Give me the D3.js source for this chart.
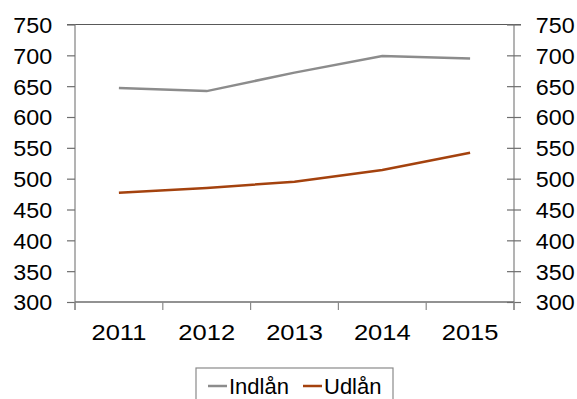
<!DOCTYPE html>
<html>
<head>
<meta charset="utf-8">
<script src="https://cdn.jsdelivr.net/npm/d3@7"></script>
<style>
  body { margin: 0; background: #fff; }
  text { font-family: "Liberation Sans", Arial, sans-serif; fill: #000; }
</style>
</head>
<body>
<script>
// data
const years = ['2011', '2012', '2013', '2014', '2015']
const indlan = [647, 642, 672, 699, 695]
const udlan = [477, 485, 495, 514, 542]
const yTicks = [300, 350, 400, 450, 500, 550, 600, 650, 700, 750]
const seriesNames = ['Indlån', 'Udlån']
const colors = ['#8c8c8c', '#a4420e']

const w = 577
const h = 399
const mLeft = 75, mRight = 514, mTop = 24.5, mBottom = 302
const sx = 1.06 // labels in the picture are a bit wider than Liberation Sans

const svg = d3.select('body')
  .append('svg')
  .attr('width', w)
  .attr('height', h)

const x = d3.scaleBand().domain(years).range([mLeft, mRight])
const y = d3.scaleLinear().domain([300, 750]).range([mBottom, mTop])

// top border line
svg.append('line')
  .attr('x1', mLeft - 8).attr('x2', mRight + 7)
  .attr('y1', y(750)).attr('y2', y(750))
  .attr('stroke', '#595959').attr('stroke-width', 1.2)

// left axis
const gl = svg.append('g')
  .attr('transform', `translate(${mLeft},0)`)
  .call(d3.axisLeft(y).tickValues(yTicks).tickSize(8).tickPadding(13.5))
gl.select('.domain').attr('stroke', '#8a8a8a').attr('stroke-width', 1.3)
  .attr('d', `M0,${mTop}V${mBottom + 8}`)
gl.selectAll('.tick line').attr('stroke', '#6e6e6e').attr('stroke-width', 1.2)
gl.selectAll('.tick text').attr('font-size', 22).attr('dy', '0.36em')
  .attr('transform', `scale(${sx},1)`)

// right axis
const gr = svg.append('g')
  .attr('transform', `translate(${mRight},0)`)
  .call(d3.axisRight(y).tickValues(yTicks).tickSize(7).tickPadding(13.5))
gr.select('.domain').attr('stroke', '#8a8a8a').attr('stroke-width', 1.3)
  .attr('d', `M0,${mTop}V${mBottom + 8}`)
gr.selectAll('.tick line').attr('stroke', '#6e6e6e').attr('stroke-width', 1.2)
  .attr('x1', -7)
gr.selectAll('.tick text').attr('font-size', 22).attr('dy', '0.36em')
  .attr('transform', `scale(${sx},1)`)

// bottom axis: ticks at the band boundaries
const gb = svg.append('g')
  .attr('transform', `translate(0,${mBottom})`)
gb.append('line')
  .attr('x1', mLeft).attr('x2', mRight)
  .attr('stroke', '#6e6e6e').attr('stroke-width', 1.3)
const bounds = years.map(d => x(d)).concat([mRight])
gb.selectAll('line.tk')
  .data(bounds)
  .enter()
  .append('line')
  .attr('class', 'tk')
  .attr('x1', d => d).attr('x2', d => d)
  .attr('y1', 0).attr('y2', 8)
  .attr('stroke', '#8a8a8a').attr('stroke-width', 1.2)
gb.selectAll('text')
  .data(years)
  .enter()
  .append('text')
  .attr('transform', d => `translate(${x(d) + x.bandwidth() / 2},38) scale(1.16,1)`)
  .attr('text-anchor', 'middle')
  .attr('font-size', 22)
  .text(d => d)

// lines
const line = d3.line()
  .x((d, i) => x(years[i]) + x.bandwidth() / 2)
  .y(d => y(d))
;[indlan, udlan].forEach((s, k) => {
  svg.append('path')
    .datum(s)
    .attr('d', line)
    .attr('fill', 'none')
    .attr('stroke', colors[k])
    .attr('stroke-width', 2.5)
})

// legend
const lg = svg.append('g')
lg.append('rect')
  .attr('x', 196).attr('y', 368)
  .attr('width', 197).attr('height', 40)
  .attr('fill', '#fff').attr('stroke', '#8a8a8a').attr('stroke-width', 1.2)
const legX = [208, 303]
seriesNames.forEach((n, k) => {
  lg.append('line')
    .attr('x1', legX[k]).attr('x2', legX[k] + 19)
    .attr('y1', 386).attr('y2', 386)
    .attr('stroke', colors[k]).attr('stroke-width', 2.5)
  lg.append('text')
    .attr('x', legX[k] + 21)
    .attr('y', 394)
    .attr('font-size', 22)
    .text(n)
})
</script>
</body>
</html>
